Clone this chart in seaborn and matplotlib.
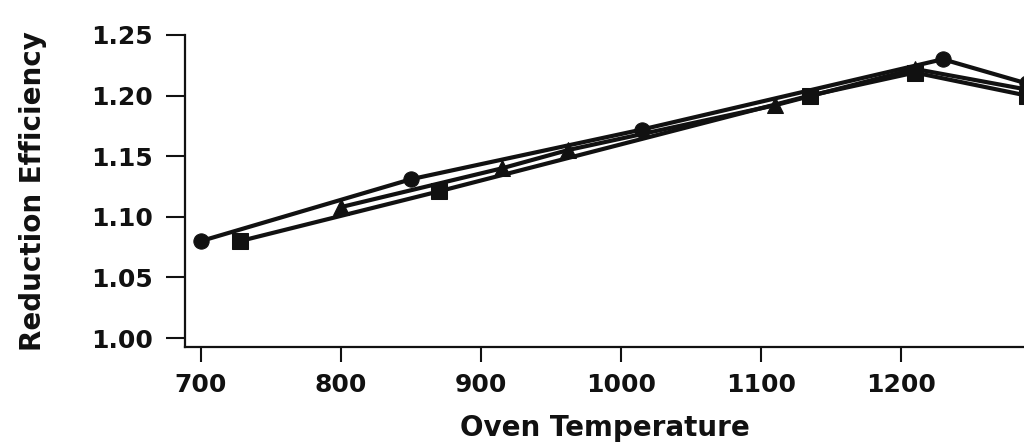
import matplotlib
matplotlib.use("Agg")
import matplotlib.pyplot as plt
import seaborn as sns
import pandas as pd

# Data
series_a_temp = [700, 850, 1015, 1230, 1290]
series_a_eff = [1.080, 1.131, 1.172, 1.230, 1.210]

series_b_temp = [728, 870, 1135, 1210, 1290]
series_b_eff = [1.080, 1.121, 1.200, 1.219, 1.200]

series_c_temp = [800, 915, 962, 1110, 1210, 1290]
series_c_eff = [1.108, 1.140, 1.155, 1.192, 1.222, 1.205]

x_ticks = [700, 800, 900, 1000, 1100, 1200]
y_ticks = [1.00, 1.05, 1.10, 1.15, 1.20, 1.25]

df = pd.concat([
    pd.DataFrame({"temp": series_a_temp, "eff": series_a_eff, "series": "A"}),
    pd.DataFrame({"temp": series_b_temp, "eff": series_b_eff, "series": "B"}),
    pd.DataFrame({"temp": series_c_temp, "eff": series_c_eff, "series": "C"}),
], ignore_index=True)

sns.set_theme(style="white")
plt.rcParams["font.family"] = ["DejaVu Sans"]

fig = plt.figure(figsize=(10.24, 4.44), dpi=100)
ax = fig.add_axes([0.1807, 0.2185, 0.8193, 0.7027])

sns.lineplot(data=df, x="temp", y="eff", hue="series", style="series",
             markers={"A": "o", "B": "s", "C": "^"}, dashes=False,
             palette={"A": "#111111", "B": "#111111", "C": "#111111"},
             sort=False, estimator=None, linewidth=3, markersize=11,
             markeredgecolor="#111111", legend=False, ax=ax, clip_on=True)

ax.set_xlim(688.6, 1288)
ax.set_ylim(0.9926, 1.25)
ax.set_xticks(x_ticks)
ax.set_xticklabels([str(t) for t in x_ticks])
ax.set_yticks(y_ticks)
ax.set_yticklabels([f"{t:.2f}" for t in y_ticks])

for side in ["top", "right"]:
    ax.spines[side].set_visible(False)
for side in ["left", "bottom"]:
    ax.spines[side].set_color("#111111")
    ax.spines[side].set_linewidth(1.6)

ax.tick_params(axis="y", direction="out", length=14, width=1.5, color="#111111",
               labelsize=18, pad=9, left=True)
ax.tick_params(axis="x", direction="out", length=11, width=1.5, color="#111111",
               labelsize=18, pad=8, bottom=True)
for lab in ax.get_xticklabels() + ax.get_yticklabels():
    lab.set_fontweight("bold")
    lab.set_color("#111111")

ax.set_xlabel("Oven Temperature", fontsize=20, fontweight="bold", color="#111111", labelpad=12)
ax.set_ylabel("Reduction Efficiency", fontsize=20, fontweight="bold", color="#111111", labelpad=32)
ax.grid(False)

fig.savefig("out.png", dpi=100)
